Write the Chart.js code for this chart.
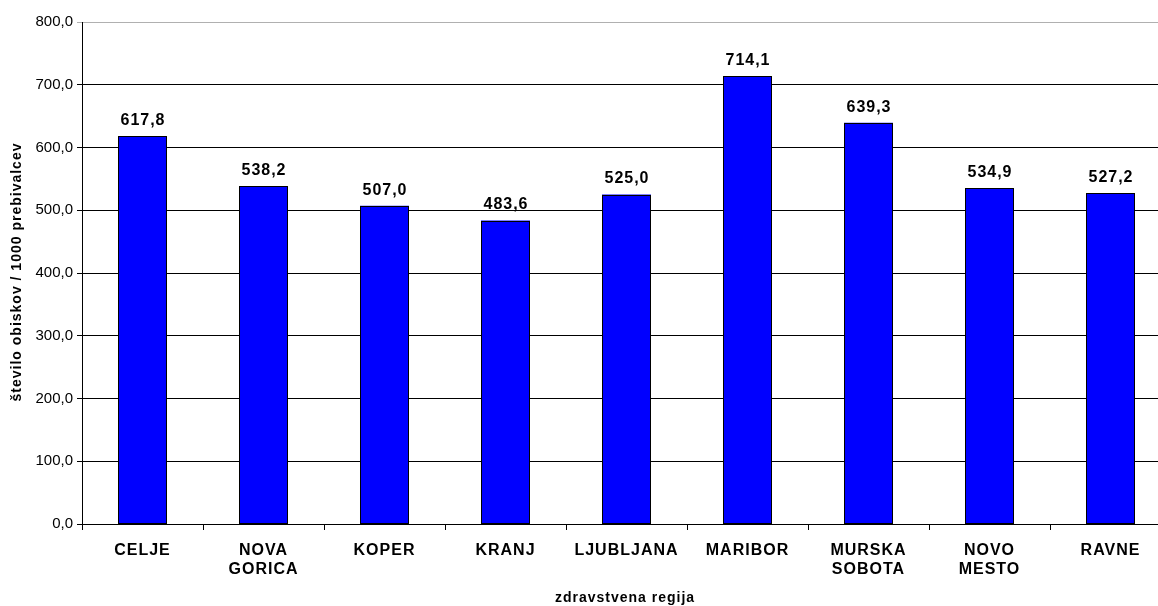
<!DOCTYPE html>
<html>
<head>
<meta charset="utf-8">
<script src="https://cdn.jsdelivr.net/npm/chart.js@4/dist/chart.umd.min.js"></script>
<style>
  html, body { margin: 0; padding: 0; background: #fff; overflow: hidden; }
  #wrap { width: 1180px; height: 606px; }
</style>
</head>
<body>
<div id="wrap"><canvas id="c" width="1180" height="606"></canvas></div>
<script>
// Regions and visits per 1000 inhabitants
const regions = [
  'CELJE', ['NOVA', 'GORICA'], 'KOPER', 'KRANJ', 'LJUBLJANA',
  'MARIBOR', ['MURSKA', 'SOBOTA'], ['NOVO', 'MESTO'], 'RAVNE'
];
const visits = [617.8, 538.2, 507.0, 483.6, 525.0, 714.1, 639.3, 534.9, 527.2];
const yTicks = [0, 100, 200, 300, 400, 500, 600, 700, 800];

const yTitle = 'število obiskov / 1000 prebivalcev';
const xTitle = 'zdravstvena regija';
const FONT = '"Liberation Sans", Arial, sans-serif';

const fmt = v => v.toFixed(1).replace('.', ',');

// Wider tracking for the bold category labels on the x axis only
const xLabelTracking = {
  id: 'xLabelTracking',
  beforeDraw(chart) {
    const sx = chart.scales.x;
    if (sx && !sx._tracked) {
      const orig = sx.drawLabels.bind(sx);
      sx.drawLabels = function (area) {
        const ctx = this.ctx;
        const prev = ctx.letterSpacing;
        ctx.letterSpacing = '1px';
        orig(area);
        ctx.letterSpacing = prev || '0px';
      };
      sx._tracked = true;
    }
  }
};

// Crisp black outline plus value label for each bar
const barDecor = {
  id: 'barDecor',
  afterDatasetsDraw(chart) {
    const ctx = chart.ctx;
    const meta = chart.getDatasetMeta(0);
    ctx.save();
    ctx.strokeStyle = '#000';
    ctx.lineWidth = 1;
    meta.data.forEach(bar => {
      const half = bar.width / 2;
      const l = Math.round(bar.x - half) + 0.5;
      const r = Math.round(bar.x + half) - 0.5;
      const t = Math.round(bar.y) + 0.5;
      const b = Math.round(bar.base) - 0.5;
      ctx.strokeRect(l, t, r - l, b - t);
    });
    ctx.font = 'bold 16px ' + FONT;
    ctx.letterSpacing = '1px';
    ctx.fillStyle = '#000';
    ctx.textAlign = 'center';
    ctx.textBaseline = 'middle';
    meta.data.forEach((bar, i) => {
      ctx.fillText(fmt(visits[i]), bar.x + 0.5, bar.y - 15.5);
    });
    ctx.letterSpacing = '0px';
    ctx.restore();
  }
};

// Axis titles
const axisTitles = {
  id: 'axisTitles',
  afterDraw(chart) {
    const ctx = chart.ctx;
    const a = chart.chartArea;
    ctx.save();
    ctx.font = 'bold 14px ' + FONT;
    ctx.letterSpacing = '1px';
    ctx.fillStyle = '#000';
    ctx.textAlign = 'center';
    ctx.textBaseline = 'middle';
    ctx.fillText(xTitle, 625, 598);
    ctx.translate(17, (a.top + a.bottom) / 2 - 1);
    ctx.rotate(-Math.PI / 2);
    ctx.fillText(yTitle, 0, 0);
    ctx.letterSpacing = '0px';
    ctx.restore();
  }
};

new Chart(document.getElementById('c'), {
  type: 'bar',
  data: {
    labels: regions,
    datasets: [{
      data: visits,
      backgroundColor: '#0000FF',
      borderWidth: 0,
      barPercentage: 0.405,
      categoryPercentage: 1.0
    }]
  },
  options: {
    responsive: false,
    animation: false,
    layout: { padding: { top: 22, right: 9, left: 0, bottom: 0 } },
    plugins: { legend: { display: false }, tooltip: { enabled: false } },
    scales: {
      x: {
        afterFit(scale) { scale.height = 82; },
        grid: {
          offset: true,
          drawOnChartArea: false,
          drawTicks: true,
          tickLength: 6,
          color: '#000'
        },
        border: { color: '#000', width: 1 },
        ticks: {
          color: '#000',
          padding: 11,
          maxRotation: 0,
          autoSkip: false,
          font: { family: FONT, size: 16, weight: 'bold', lineHeight: 1.2 }
        }
      },
      y: {
        min: 0,
        max: 800,
        afterFit(scale) { scale.width = 82; },
        afterBuildTicks(scale) { scale.ticks = yTicks.map(v => ({ value: v })); },
        grid: {
          color: ctx => (ctx.tick && ctx.tick.value === 800) ? '#b0b0b0' : '#000',
          tickLength: 5,
          lineWidth: 1
        },
        border: { color: '#000', width: 1 },
        ticks: {
          color: '#000',
          padding: 4,
          font: { family: FONT, size: 15 },
          callback: v => fmt(v)
        }
      }
    }
  },
  plugins: [xLabelTracking, barDecor, axisTitles]
});
</script>
</body>
</html>
